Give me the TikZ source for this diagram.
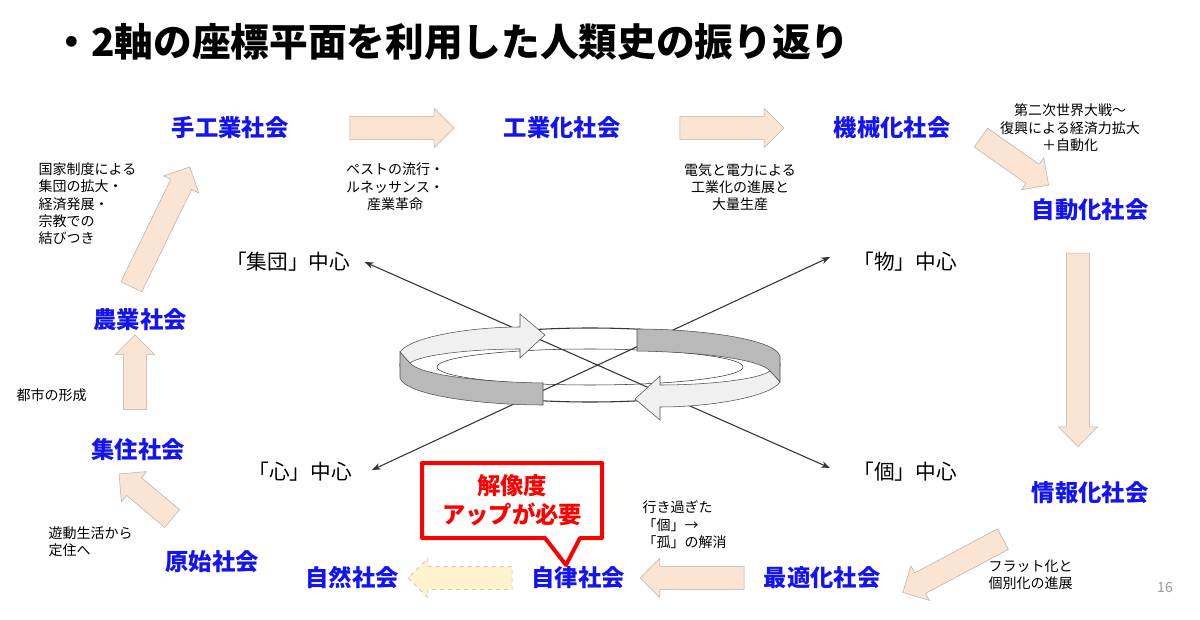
\documentclass[tikz,border=0pt]{standalone}
\usepackage{fontspec}
\setmainfont{Noto Sans CJK JP}
\usetikzlibrary{shapes.arrows,arrows.meta}
\definecolor{peach}{RGB}{251,228,210}
\definecolor{cream}{RGB}{255,242,204}
\definecolor{socblue}{RGB}{20,20,240}
\tikzset{
  soc/.style={text=socblue,font=\fontsize{17.5}{20}\selectfont\bfseries},
  note/.style={font=\fontsize{10.5}{13}\selectfont,align=left},
  axis/.style={font=\fontsize{15.5}{18}\selectfont},
  flow/.style={single arrow,draw=gray!60,fill=peach,inner xsep=0pt,inner ysep=8.5pt,
    minimum height=#1,single arrow head extend=6pt},
}
\begin{document}
\begin{tikzpicture}[x=0.75pt,y=-0.75pt]
  \useasboundingbox (0,0) rectangle (1200,620);
  \node[anchor=west,font=\fontsize{29}{32}\selectfont\bfseries] (title) at (48,42) {・2軸の座標平面を利用した人類史の振り返り};
  % societies
  \node[soc] (hand) at (230,128) {手工業社会};
  \node[soc] (ind) at (562,128) {工業化社会};
  \node[soc] (mach) at (892,128) {機械化社会};
  \node[soc] (auto) at (1090,210) {自動化社会};
  \node[soc] (info) at (1090,493) {情報化社会};
  \node[soc] (opt) at (822,578) {最適化社会};
  \node[soc] (self) at (578,578) {自律社会};
  \node[soc] (nat) at (352,578) {自然社会};
  \node[soc] (prim) at (212,562) {原始社会};
  \node[soc] (dwell) at (138,450) {集住社会};
  \node[soc] (agri) at (140,320) {農業社会};
  % block arrows
  \node[flow=78pt] at (396,128) {};
  \node[flow=78pt] at (726,128) {};
  \node[flow=62pt,rotate=-35] at (1010,158) {};
  \node[flow=145pt,rotate=-90] at (1078,344) {};
  \node[flow=85pt,rotate=-152] at (958,563) {};
  \node[flow=78pt,rotate=180] at (698,578) {};
  \node[flow=78pt,rotate=180,fill=cream,dashed] at (466,578) {};
  \node[flow=52pt,rotate=140] at (150,500) {};
  \node[flow=56pt,rotate=90] at (135,378) {};
  \node[flow=100pt,rotate=64] at (158,232) {};
  % notes
  \node[note,align=center] (n1) at (395,187) {ペストの流行・\\ルネッサンス・\\産業革命};
  \node[note,align=center] (n2) at (740,187) {電気と電力による\\工業化の進展と\\大量生産};
  \node[note,align=center] (n3) at (1070,128) {第二次世界大戦～\\復興による経済力拡大\\＋自動化};
  \node[note,anchor=north west] (n4) at (34,158) {国家制度による\\集団の拡大・\\経済発展・\\宗教での\\結びつき};
  \node[note,anchor=west] (n5) at (12,395) {都市の形成};
  \node[note,anchor=west] (n6) at (44,542) {遊動生活から\\定住へ};
  \node[note,anchor=west] (n7) at (638,525) {行き過ぎた\\「個」→\\「孤」の解消};
  \node[note,anchor=west] (n8) at (984,575) {フラット化と\\個別化の進展};
  \node[font=\fontsize{10.5}{12}\selectfont,text=gray!80] (pg) at (1165,588) {16};
  % axes
  \node[axis] (grp) at (288,262) {「集団」中心};
  \node[axis] (obj) at (905,262) {「物」中心};
  \node[axis] (mind) at (300,472) {「心」中心};
  \node[axis] (ind2) at (905,472) {「個」中心};
  \draw[gray!40!black,thick] (590,365) ellipse (190 and 37);
  \draw[gray!40!black] (590,367) ellipse (153 and 18);
  \draw[gray!40!black,thick,{Stealth}-{Stealth}] (grp.east) ++(10,0) coordinate (g) -- (830,468);
  \draw[gray!40!black,thick,{Stealth}-{Stealth}] (372,470) -- (830,257);
  % ribbon
  \foreach \s in {1,-1}{
    \begin{scope}[shift={(590,367)},xscale=\s,yscale=\s]
      \filldraw[draw=gray!60!black,fill=gray!55] (-190,-15) -- (-190,11) .. controls (-185,28) and (-110,38) .. (-47,38)
        -- (-47,16) .. controls (-110,15) and (-170,8) .. (-180,-4) -- cycle;
      \filldraw[draw=gray!60!black,fill=gray!12] (-190,-15) .. controls (-180,-30) and (-120,-40) .. (-70,-40)
        -- (-70,-53) -- (-45,-32) -- (-70,-9) -- (-70,-18) .. controls (-120,-18) and (-170,-12) .. (-180,-4) -- cycle;
    \end{scope}}
  % callout
  \draw[red,line width=3pt,fill=white,line join=round] (422,463) -- (602,463) -- (602,538) -- (580,538) -- (566,565) -- (545,538) -- (422,538) -- cycle;
  \node[text=red,font=\fontsize{17.5}{22}\selectfont\bfseries,align=center] (res) at (512,500) {解像度\\アップが必要};
\end{tikzpicture}
\end{document}
